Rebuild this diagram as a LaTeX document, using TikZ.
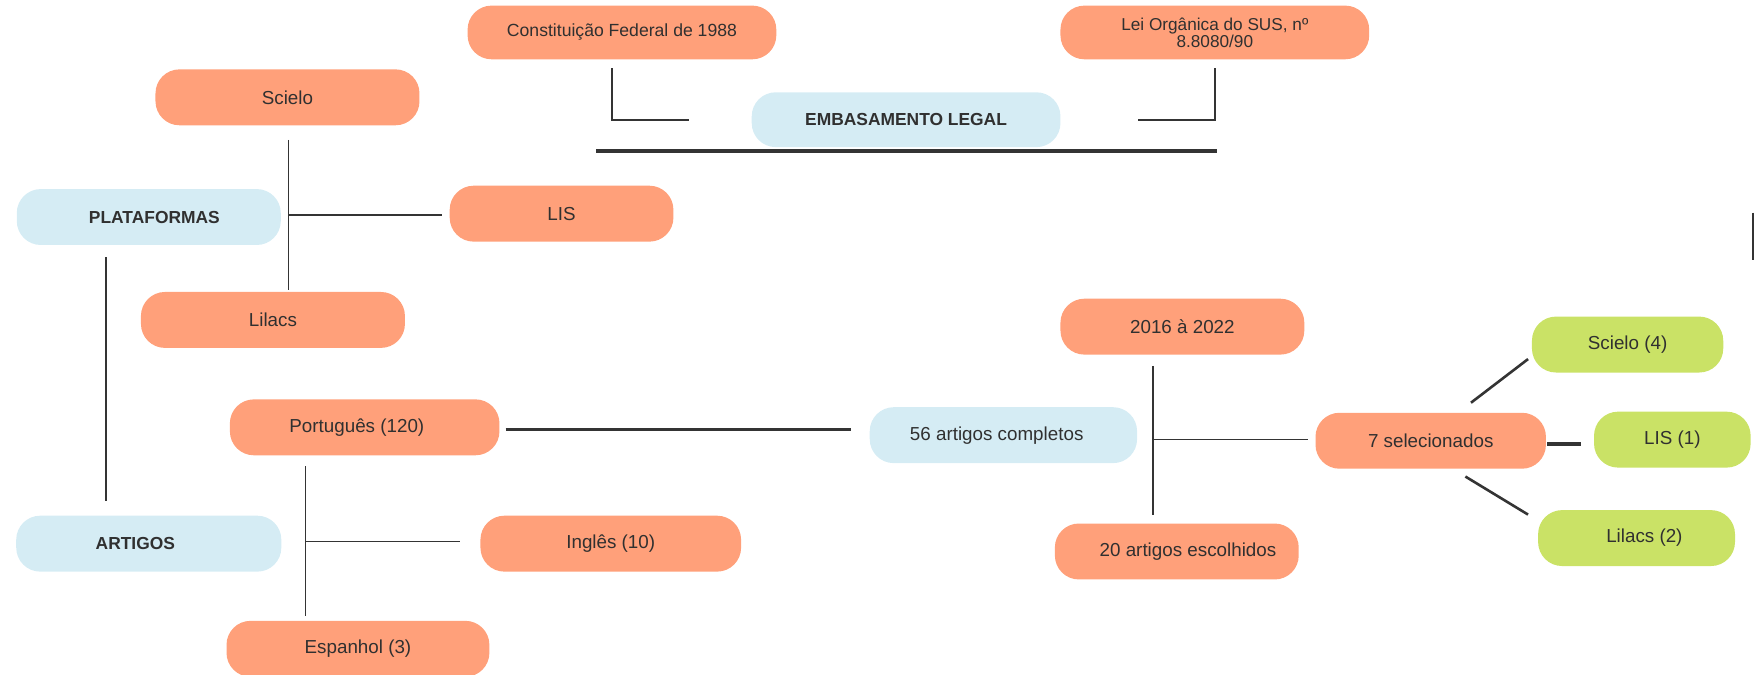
\documentclass[tikz,border=0pt]{standalone}
\usepackage{fontspec}
\setmainfont{Liberation Sans}
\newlength{\uu}
\setlength{\uu}{0.5593pt}
\definecolor{orng}{RGB}{255,160,122}
\definecolor{lblue}{RGB}{213,236,244}
\definecolor{lgreen}{RGB}{202,226,102}
\definecolor{txt}{RGB}{48,48,48}
\definecolor{ln}{RGB}{52,52,52}
\tikzset{
  pill/.style={rounded corners=12pt, inner sep=0pt, text=txt, align=center,
    font=\fontsize{9.4}{10}\selectfont},
  obox/.style={pill, fill=orng},
  bbox/.style={pill, fill=lblue},
  gbox/.style={pill, fill=lgreen},
  boldtxt/.style={font=\fontsize{8.7}{10}\bfseries\selectfont},
  thin/.style={draw=ln, line width=0.85pt},
  thick/.style={draw=ln, line width=1.7pt},
  diag/.style={draw=ln, line width=1.3pt},
}
\begin{document}
\begin{tikzpicture}[x=0.5593pt, y=-0.5593pt]
\useasboundingbox (0,0) rectangle (1568,603);
% top
\node[obox, minimum width=276*\uu, minimum height=48*\uu, font=\fontsize{8.8}{10}\selectfont] (const) at (556,29) {Constituição Federal de 1988};
\node[obox, minimum width=276*\uu, minimum height=48*\uu, font=\fontsize{8.6}{8.5}\selectfont] (lei) at (1086,29) {Lei Orgânica do SUS, nº\\8.8080/90};
\node[bbox, boldtxt, minimum width=276*\uu, minimum height=49*\uu] (emb) at (810,107) {EMBASAMENTO LEGAL};
\coordinate (cA) at (547,61);
\coordinate (cB) at (616,107);
\coordinate (lA) at (1086,61);
\coordinate (lB) at (1017,107);
\coordinate (tA) at (533,135);
\coordinate (tB) at (1088,135);
\draw[thin] (cA) |- (cB);
\draw[thin] (lA) |- (lB);
\draw[thick] (tA) -- (tB);
% plataformas
\node[obox, minimum width=236*\uu, minimum height=50*\uu] (scielo) at (257,87) {Scielo};
\node[bbox, boldtxt, minimum width=236*\uu, minimum height=50*\uu] (plat) at (133,194) {\hspace*{10\uu}PLATAFORMAS};
\node[obox, minimum width=200*\uu, minimum height=50*\uu] (lis) at (502,191) {LIS};
\node[obox, minimum width=236*\uu, minimum height=50*\uu] (lilacs) at (244,286) {Lilacs};
\coordinate (pv1) at (258,125);
\coordinate (pv2) at (258,259);
\coordinate (pvm) at (258,192);
\coordinate (pvh) at (395,192);
\draw[thin] (pv1) -- (pv2);
\draw[thin] (pvm) -- (pvh);
\coordinate (pa1) at (95,230);
\coordinate (pa2) at (95,448);
\draw[thin] (pa1) -- (pa2);
% artigos
\node[bbox, boldtxt, minimum width=237*\uu, minimum height=50*\uu] (art) at (133,486) {\hspace*{-24\uu}ARTIGOS};
\node[obox, minimum width=241*\uu, minimum height=50*\uu] (port) at (326,382) {\hspace*{-14\uu}Português (120)};
\node[obox, minimum width=233*\uu, minimum height=50*\uu] (ingl) at (546,486) {Inglês (10)};
\node[obox, minimum width=235*\uu, minimum height=50*\uu] (esp) at (320,580) {Espanhol (3)};
\coordinate (av1) at (273,417);
\coordinate (av2) at (273,551);
\coordinate (avm) at (273,484);
\coordinate (avh) at (411,484);
\draw[thin] (av1) -- (av2);
\draw[thin] (avm) -- (avh);
\coordinate (ph1) at (452,384);
\coordinate (ph2) at (761,384);
\draw[thick] (ph1) -- (ph2);
% right part
\node[bbox, minimum width=239*\uu, minimum height=50*\uu] (c56) at (897,389) {\hspace*{-12\uu}56 artigos completos};
\node[obox, minimum width=218*\uu, minimum height=50*\uu] (y16) at (1057,292) {2016 à 2022};
\node[obox, minimum width=218*\uu, minimum height=50*\uu] (e20) at (1052,493) {\hspace*{20\uu}20 artigos escolhidos};
\node[obox, minimum width=206*\uu, minimum height=50*\uu] (sel) at (1279,394) {7 selecionados};
\node[gbox, minimum width=171*\uu, minimum height=50*\uu] (sc4) at (1455,308) {Scielo (4)};
\node[gbox, minimum width=140*\uu, minimum height=50*\uu] (lis1) at (1495,393) {LIS (1)};
\node[gbox, minimum width=176*\uu, minimum height=50*\uu] (lil2) at (1463,481) {\hspace*{14\uu}Lilacs (2)};
\coordinate (rv1) at (1031,327);
\coordinate (rv2) at (1031,460);
\coordinate (rvm) at (1031,393);
\coordinate (rvh) at (1169,393);
\draw[thin] (rv1) -- (rv2);
\draw[thin] (rvm) -- (rvh);
\coordinate (d1a) at (1315,360);
\coordinate (d1b) at (1366,321);
\coordinate (d2a) at (1383,397);
\coordinate (d2b) at (1413,397);
\coordinate (d3a) at (1310,426);
\coordinate (d3b) at (1366,460);
\draw[diag] (d1a) -- (d1b);
\draw[thick] (d2a) -- (d2b);
\draw[diag] (d3a) -- (d3b);
% edge mark
\coordinate (m1) at (1567,190);
\coordinate (m2) at (1567,232);
\draw[draw=ln, line width=0.9pt] (m1) -- (m2);
\end{tikzpicture}
\end{document}
